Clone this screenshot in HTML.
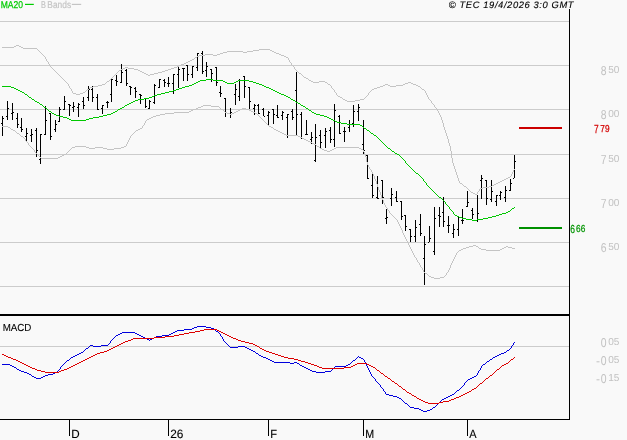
<!DOCTYPE html><html><head><meta charset="utf-8"><title>chart</title><style>html,body{margin:0;padding:0;background:#f9f9f9;}svg{display:block;will-change:transform;transform:translateZ(0)}text{font-family:"Liberation Sans",sans-serif;text-rendering:geometricPrecision}</style></head><body>
<svg width="627" height="440" viewBox="0 0 627 440">
<line x1="0" y1="21.5" x2="569" y2="21.5" stroke="#cccccc" stroke-width="1" shape-rendering="crispEdges"/>
<line x1="0" y1="65.5" x2="569" y2="65.5" stroke="#cccccc" stroke-width="1" shape-rendering="crispEdges"/>
<line x1="0" y1="109.5" x2="569" y2="109.5" stroke="#cccccc" stroke-width="1" shape-rendering="crispEdges"/>
<line x1="0" y1="154.5" x2="569" y2="154.5" stroke="#cccccc" stroke-width="1" shape-rendering="crispEdges"/>
<line x1="0" y1="198.5" x2="569" y2="198.5" stroke="#cccccc" stroke-width="1" shape-rendering="crispEdges"/>
<line x1="0" y1="242.5" x2="569" y2="242.5" stroke="#cccccc" stroke-width="1" shape-rendering="crispEdges"/>
<line x1="0" y1="286.5" x2="569" y2="286.5" stroke="#cccccc" stroke-width="1" shape-rendering="crispEdges"/>
<line x1="0" y1="346.5" x2="569" y2="346.5" stroke="#cccccc" stroke-width="1" shape-rendering="crispEdges"/>
<path d="M2.5 116V136M1 123.5h1M3 118.5h1M7.5 101V120M6 116.5h1M8 108.5h1M12.5 103V120M11 113.5h1M13 112.5h1M17.5 113V128M16 118.5h1M18 124.5h1M21.5 118V132M20 127.5h1M22 129.5h1M26.5 128V142M25 136.5h1M27 133.5h1M31.5 129V142M30 135.5h1M32 134.5h1M36.5 128V157M35 130.5h1M37 150.5h1M40.5 134V164M39 159.5h1M41 134.5h1M45.5 106V135M44 134.5h1M46 120.5h1M50.5 113V140M49 113.5h1M51 136.5h1M55.5 120V132M54 129.5h1M56 124.5h1M59.5 107V122M58 121.5h1M60 109.5h1M64.5 96V110M63 109.5h1M65 101.5h1M69.5 104V116M68 104.5h1M70 105.5h1M73.5 102V112M72 107.5h1M74 106.5h1M78.5 103V117M77 107.5h1M79 104.5h1M83.5 97V109M82 101.5h1M84 105.5h1M88.5 86V101M87 97.5h1M89 89.5h1M92.5 86V102M91 89.5h1M93 97.5h1M97.5 94V110M96 97.5h1M98 109.5h1M102.5 105V114M101 108.5h1M103 105.5h1M107.5 101V108M106 102.5h1M108 102.5h1M111.5 79V102M110 94.5h1M112 79.5h1M116.5 75V86M115 80.5h1M117 81.5h1M121.5 64V83M120 82.5h1M122 72.5h1M126.5 69V86M125 70.5h1M127 83.5h1M130.5 86V95M129 86.5h1M131 87.5h1M135.5 87V98M134 88.5h1M136 91.5h1M140.5 94V104M139 94.5h1M141 95.5h1M145.5 98V108M144 98.5h1M146 106.5h1M149.5 100V109M148 108.5h1M150 101.5h1M154.5 84V104M153 102.5h1M155 85.5h1M159.5 79V88M158 87.5h1M160 79.5h1M164.5 79V87M163 80.5h1M165 82.5h1M168.5 77V87M167 83.5h1M169 83.5h1M173.5 74V94M172 83.5h1M174 74.5h1M178.5 67V88M177 74.5h1M179 69.5h1M183.5 68V81M182 68.5h1M184 68.5h1M187.5 65V81M186 65.5h1M188 74.5h1M192.5 66V78M191 74.5h1M193 66.5h1M197.5 53V71M196 67.5h1M198 53.5h1M202.5 51V74M201 53.5h1M203 71.5h1M206.5 62V77M205 70.5h1M207 66.5h1M211.5 69V82M210 69.5h1M212 73.5h1M216.5 67V86M215 67.5h1M217 82.5h1M220.5 86V97M219 92.5h1M221 93.5h1M225.5 98V117M224 98.5h1M226 112.5h1M230.5 108V118M229 113.5h1M231 112.5h1M235.5 84V105M234 94.5h1M236 89.5h1M239.5 79V101M238 96.5h1M240 80.5h1M244.5 76V98M243 76.5h1M245 86.5h1M249.5 87V109M248 87.5h1M250 101.5h1M254.5 104V115M253 108.5h1M255 105.5h1M258.5 104V114M257 105.5h1M259 113.5h1M263.5 108V116M262 109.5h1M264 116.5h1M268.5 111V125M267 115.5h1M269 112.5h1M273.5 109V124M272 109.5h1M274 114.5h1M277.5 105V118M276 115.5h1M278 117.5h1M282.5 111V120M281 115.5h1M283 112.5h1M287.5 114V138M286 117.5h1M288 114.5h1M292.5 109V120M291 111.5h1M293 117.5h1M296.5 72V136M295 90.5h1M297 114.5h1M301.5 112V139M300 114.5h1M302 138.5h1M306.5 120V135M305 134.5h1M307 134.5h1M311.5 132V144M310 139.5h1M312 137.5h1M315.5 124V162M314 160.5h1M316 137.5h1M320.5 130V149M319 135.5h1M321 142.5h1M325.5 128V148M324 135.5h1M326 131.5h1M330.5 127V143M329 130.5h1M331 139.5h1M334.5 104V147M333 139.5h1M335 110.5h1M339.5 115V134M338 116.5h1M340 133.5h1M344.5 127V142M343 131.5h1M345 131.5h1M349.5 120V132M348 127.5h1M350 124.5h1M353.5 105V127M352 123.5h1M354 111.5h1M358.5 104V121M357 111.5h1M359 107.5h1M363.5 120V154M362 144.5h1M364 150.5h1M367.5 155V179M366 155.5h1M368 178.5h1M372.5 174V198M371 185.5h1M373 195.5h1M377.5 176V199M376 197.5h1M378 198.5h1M382.5 180V204M381 180.5h1M383 197.5h1M386.5 209V224M385 218.5h1M387 217.5h1M391.5 188V206M390 198.5h1M392 194.5h1M396.5 191V202M395 197.5h1M397 201.5h1M401.5 201V220M400 201.5h1M402 216.5h1M405.5 215V231M404 215.5h1M406 226.5h1M410.5 229V242M409 229.5h1M411 236.5h1M415.5 220V242M414 236.5h1M416 227.5h1M420.5 214V236M419 224.5h1M421 233.5h1M424.5 236V285M423 258.5h1M425 244.5h1M429.5 226V242M428 242.5h1M430 238.5h1M434.5 207V255M433 251.5h1M435 218.5h1M439.5 207V227M438 215.5h1M440 216.5h1M443.5 197V227M442 212.5h1M444 221.5h1M448.5 216V233M447 225.5h1M449 225.5h1M453.5 224V238M452 233.5h1M454 229.5h1M458.5 217V236M457 229.5h1M459 217.5h1M462.5 209V224M461 220.5h1M463 220.5h1M467.5 191V207M466 206.5h1M468 202.5h1M472.5 208V219M471 210.5h1M473 214.5h1M477.5 195V222M476 220.5h1M478 213.5h1M481.5 175V199M480 180.5h1M482 178.5h1M486.5 180V205M485 180.5h1M487 198.5h1M491.5 180V202M490 199.5h1M492 191.5h1M496.5 195V206M495 201.5h1M497 195.5h1M500.5 191V200M499 195.5h1M501 192.5h1M505.5 186V202M504 197.5h1M506 190.5h1M510.5 179V191M509 190.5h1M511 183.5h1M514.5 155V178M513 178.5h1M515 161.5h1" stroke="#000" stroke-width="1" fill="none" shape-rendering="crispEdges"/>
<path d="M199 55.5h6M213 55.5h4M281 55.5h3M492 185.5h2M93 86.5h5M380 86.5h3M390 86.5h6M418 86.5h2M347 101.5h8M184 63.5h2M102 84.5h3M328 84.5h2M385 84.5h3M403 84.5h2M413 84.5h3M188 61.5h2M253 50.5h6M270 50.5h2M197 56.5h2M284 56.5h2M498 182.5h2M144 73.5h2M154 73.5h4M299 73.5h2M313 82.5h6M325 82.5h2M408 82.5h3M220 53.5h3M276 53.5h3M23 48.5h14M205 54.5h8M217 54.5h3M279 54.5h2M195 57.5h2M286 57.5h2M306 78.5h2M107 81.5h2M311 81.5h2M319 81.5h6M76 94.5h4M475 194.5h2M98 85.5h4M383 85.5h2M388 85.5h2M396 85.5h7M416 85.5h2M259 49.5h11M340 97.5h2M125 67.5h3M174 67.5h3M121 69.5h2M134 69.5h4M168 69.5h3M83 92.5h2M146 74.5h2M150 74.5h4M227 51.5h16M247 51.5h6M272 51.5h2M2 47.5h12M21 47.5h2M90 87.5h3M377 87.5h3M494 184.5h2M186 62.5h2M179 65.5h2M123 68.5h2M128 68.5h6M171 68.5h3M508 177.5h2M140 71.5h2M162 71.5h3M405 83.5h3M411 83.5h2M309 80.5h2M374 88.5h3M343 99.5h2M360 99.5h4M345 100.5h2M355 100.5h5M190 60.5h2M142 72.5h2M158 72.5h4M502 180.5h2M87 89.5h2M372 89.5h2M422 89.5h2M464 186.5h2M489 186.5h3M73 93.5h3M80 93.5h3M177 66.5h2M506 178.5h2M483 187.5h6M16 45.5h3M223 52.5h4M243 52.5h4M274 52.5h2M148 75.5h2M14 46.5h2M19 46.5h2M192 59.5h2M181 64.5h3M119 70.5h2M138 70.5h2M165 70.5h3M460 183.5h2M496 183.5h2M471 192.5h2M480 188.5h3M473 193.5h2M500 181.5h2M504 179.5h2M304 77.5h2M338 96.5h2M53.5 69v1M513.5 170v2M438.5 111v2M72.5 91v2M450.5 146v5M454.5 166v3M331.5 86v2M294.5 67v2M39.5 51v1M364.5 98v1M48.5 62v2M85.5 91v1M68.5 84v2M289.5 60v2M510.5 176v1M442.5 120v3M512.5 172v2M64.5 80v1M44.5 56v1M59.5 75v1M337.5 95v1M427.5 95v2M46.5 59v2M60.5 76v1M40.5 52v1M511.5 174v2M49.5 64v2M112.5 77v1M424.5 90v1M113.5 76v1M432.5 103v1M449.5 143v3M455.5 169v3M451.5 151v7M368.5 93v2M370.5 91v1M110.5 79v1M425.5 91v2M111.5 78v1M371.5 90v1M292.5 65v1M479.5 189v2M302.5 75v1M440.5 115v2M443.5 123v4M366.5 96v1M66.5 82v1M367.5 95v1M369.5 92v1M458.5 178v3M330.5 85v1M477.5 192v2M478.5 191v1M433.5 104v1M441.5 117v3M288.5 58v2M62.5 78v1M42.5 54v1M71.5 89v2M456.5 172v3M365.5 97v1M453.5 163v3M43.5 55v1M58.5 74v1M86.5 90v1M434.5 105v2M38.5 50v1M428.5 97v2M303.5 76v1M446.5 133v3M448.5 139v4M342.5 98v1M335.5 92v1M439.5 113v2M444.5 127v3M469.5 190v1M47.5 61v1M63.5 79v1M426.5 93v2M89.5 88v1M452.5 158v5M290.5 62v1M65.5 81v1M459.5 181v2M336.5 93v2M45.5 57v2M457.5 175v3M41.5 53v1M431.5 101v2M466.5 187v1M301.5 74v1M69.5 86v2M118.5 71v1M447.5 136v3M105.5 83v1M327.5 83v1M291.5 63v2M308.5 79v1M467.5 188v1M445.5 130v3M435.5 107v1M109.5 80v1M437.5 109v2M67.5 83v1M295.5 69v1M70.5 88v1M334.5 90v2M468.5 189v1M333.5 89v1M420.5 87v1M429.5 99v1M51.5 67v1M470.5 191v1M421.5 88v1M430.5 100v1M298.5 72v1M52.5 68v1M293.5 66v1M117.5 72v1M332.5 88v1M116.5 73v1M436.5 108v1M114.5 75v1M115.5 74v1M54.5 70v1M296.5 70v1M55.5 71v1M50.5 66v1M462.5 184v1M297.5 71v1M194.5 58v1M463.5 185v1M106.5 82v1M56.5 72v1M61.5 77v1M514.5 169v1M57.5 73v1M37.5 49v1" fill="none" stroke="#c4c4c4" stroke-width="1" shape-rendering="crispEdges"/>
<path d="M89 148.5h6M103 148.5h4M114 148.5h7M320 148.5h2M334 148.5h2M359 148.5h2M466 247.5h3M504 247.5h2M508 247.5h4M459 250.5h2M486 250.5h14M140 128.5h2M469 246.5h4M476 246.5h2M506 246.5h2M429 276.5h2M193 109.5h3M221 109.5h2M240 109.5h2M246 109.5h3M62 155.5h2M431 277.5h3M440 277.5h4M160 114.5h5M230 114.5h2M306 140.5h2M72 147.5h3M86 147.5h3M95 147.5h8M121 147.5h3M336 147.5h23M327 151.5h3M174 112.5h15M225 112.5h2M234 112.5h2M253 112.5h2M156 115.5h4M17 133.5h2M282 133.5h2M153 116.5h3M191 110.5h2M238 110.5h2M249 110.5h2M463 248.5h3M479 248.5h2M502 248.5h2M512 248.5h3M58 157.5h2M284 134.5h2M75 146.5h11M124 146.5h2M317 146.5h2M461 249.5h2M481 249.5h5M500 249.5h2M13 130.5h2M136 130.5h2M276 130.5h2M41 158.5h17M107 149.5h7M322 149.5h2M332 149.5h2M361 149.5h2M434 278.5h6M165 113.5h9M227 113.5h3M232 113.5h2M255 113.5h2M308 141.5h2M324 150.5h3M330 150.5h2M196 108.5h2M242 108.5h4M201 106.5h2M211 106.5h8M286 135.5h12M314 144.5h2M2 126.5h6M269 126.5h2M425 273.5h2M310 142.5h2M189 111.5h2M236 111.5h2M251 111.5h2M203 105.5h8M151 117.5h2M21 136.5h2M298 136.5h2M473 245.5h3M302 138.5h2M11 129.5h2M138 129.5h2M274 129.5h2M312 143.5h2M304 139.5h2M147 119.5h2M278 131.5h2M8 127.5h2M271 127.5h2M280 132.5h2M149 118.5h2M198 107.5h3M60 156.5h2M300 137.5h2M64 154.5h2M142.5 126v2M35.5 152v1M144.5 123v2M369.5 167v2M381.5 195v3M376.5 181v3M378.5 187v3M398.5 222v2M455.5 255v2M405.5 237v2M419.5 263v2M380.5 192v3M127.5 142v2M364.5 152v2M428.5 275v1M36.5 153v1M370.5 169v1M382.5 198v2M30.5 146v1M260.5 117v1M454.5 257v2M448.5 270v2M446.5 273v2M412.5 251v2M367.5 162v3M135.5 131v1M261.5 118v1M444.5 276v1M368.5 165v2M374.5 176v3M257.5 114v1M371.5 170v2M37.5 154v1M129.5 138v2M366.5 157v5M451.5 263v2M385.5 205v2M24.5 138v1M66.5 153v1M375.5 179v2M420.5 265v2M409.5 245v2M387.5 208v2M423.5 270v2M128.5 140v2M390.5 213v1M262.5 119v1M452.5 261v2M39.5 156v1M413.5 253v2M34.5 150v2M28.5 143v2M416.5 258v2M258.5 115v1M268.5 125v1M383.5 200v3M391.5 214v1M403.5 233v2M418.5 262v1M400.5 226v2M25.5 139v2M421.5 267v1M264.5 121v1M259.5 116v1M219.5 107v1M397.5 220v2M410.5 247v2M450.5 265v3M373.5 174v2M40.5 157v1M19.5 134v1M145.5 121v2M414.5 255v2M456.5 253v2M146.5 120v1M126.5 144v2M411.5 249v2M404.5 235v2M379.5 190v2M265.5 122v1M408.5 243v2M365.5 154v3M220.5 108v1M31.5 147v1M394.5 217v1M67.5 152v1M266.5 123v1M389.5 211v2M15.5 131v1M32.5 148v1M447.5 272v1M316.5 145v1M26.5 141v1M449.5 268v2M399.5 224v2M453.5 259v2M273.5 128v1M363.5 150v2M402.5 230v3M134.5 132v1M38.5 155v1M377.5 184v3M406.5 239v2M395.5 218v1M130.5 136v2M132.5 134v1M267.5 124v1M424.5 272v1M33.5 149v1M263.5 120v1M396.5 219v1M29.5 145v1M417.5 260v2M372.5 172v2M392.5 215v1M422.5 268v2M458.5 251v1M20.5 135v1M384.5 203v2M457.5 252v1M393.5 216v1M401.5 228v2M407.5 241v2M478.5 247v1M319.5 147v1M388.5 210v1M143.5 125v1M133.5 133v1M27.5 142v1M415.5 257v1M131.5 135v1M71.5 148v1M69.5 150v1M10.5 128v1M70.5 149v1M16.5 132v1M223.5 110v1M68.5 151v1M445.5 275v1M23.5 137v1M386.5 207v1M224.5 111v1M427.5 274v1" fill="none" stroke="#c4c4c4" stroke-width="1" shape-rendering="crispEdges"/>
<path d="M161 93.5h4M279 93.5h2M194 83.5h2M227 83.5h7M256 83.5h3M371 133.5h2M472 220.5h5M63 117.5h4M93 117.5h6M327 117.5h2M200 80.5h6M213 80.5h10M238 80.5h11M506 212.5h2M125 105.5h2M301 105.5h2M364 128.5h2M206 79.5h7M198 81.5h2M223 81.5h2M236 81.5h2M249 81.5h4M512 208.5h2M196 82.5h2M225 82.5h2M234 82.5h2M253 82.5h3M35 101.5h2M133 101.5h2M71 120.5h15M333 120.5h2M18 90.5h2M173 90.5h3M273 90.5h2M457 216.5h2M492 216.5h4M341 123.5h6M129 103.5h2M298 103.5h2M14 88.5h2M179 88.5h3M269 88.5h2M56 115.5h3M103 115.5h4M320 115.5h4M347 124.5h13M11 87.5h3M182 87.5h3M266 87.5h3M37 102.5h2M131 102.5h2M296 102.5h2M192 84.5h2M259 84.5h3M29 97.5h2M149 97.5h3M288 97.5h2M2 86.5h9M185 86.5h4M264 86.5h2M67 118.5h2M89 118.5h4M329 118.5h2M144 98.5h5M25 94.5h2M157 94.5h4M281 94.5h3M367 130.5h2M455 215.5h2M496 215.5h3M459 217.5h3M488 217.5h4M154 95.5h3M284 95.5h2M360 125.5h2M49 111.5h2M115 111.5h2M152 96.5h2M286 96.5h2M22 92.5h2M165 92.5h4M277 92.5h2M59 116.5h4M99 116.5h4M324 116.5h3M189 85.5h3M262 85.5h2M52 113.5h2M111 113.5h2M314 113.5h2M135 100.5h3M293 100.5h2M32 99.5h2M138 99.5h6M291 99.5h2M502 213.5h4M309 110.5h2M462 218.5h4M483 218.5h5M20 91.5h2M169 91.5h4M275 91.5h2M120 108.5h2M306 108.5h2M374 135.5h2M16 89.5h2M176 89.5h3M271 89.5h2M44 107.5h2M122 107.5h2M466 219.5h6M477 219.5h6M54 114.5h2M107 114.5h4M316 114.5h4M69 119.5h2M86 119.5h3M331 119.5h2M508 211.5h2M303 106.5h2M335 121.5h2M337 122.5h4M40 104.5h2M127 104.5h2M395 153.5h2M118 109.5h2M392 151.5h2M499 214.5h3M388 148.5h2M113 112.5h2M312 112.5h2M416 173.5h2M439 197.5h2M397 154.5h2M444.5 201v1M401.5 157v1M432.5 190v1M369.5 131v1M452.5 211v1M42.5 105v1M413.5 170v1M433.5 191v1M117.5 110v1M429.5 187v1M423.5 179v2M449.5 207v2M124.5 106v1M414.5 171v1M390.5 149v1M424.5 181v1M450.5 209v1M391.5 150v1M362.5 126v1M405.5 161v2M436.5 194v1M308.5 109v1M39.5 103v1M363.5 127v1M437.5 195v1M510.5 210v1M426.5 183v2M27.5 95v1M370.5 132v1M381.5 141v1M453.5 212v2M514.5 207v1M377.5 137v1M438.5 196v1M448.5 206v1M28.5 96v1M47.5 109v1M434.5 192v1M48.5 110v1M378.5 138v1M383.5 143v1M425.5 182v1M379.5 139v1M451.5 210v1M419.5 175v1M445.5 202v2M407.5 164v1M420.5 176v1M446.5 204v1M385.5 145v1M300.5 104v1M46.5 108v1M376.5 136v1M386.5 146v1M421.5 177v1M447.5 205v1M34.5 100v1M382.5 142v1M410.5 167v1M295.5 101v1M406.5 163v1M418.5 174v1M290.5 98v1M394.5 152v1M427.5 185v1M311.5 111v1M511.5 209v1M366.5 129v1M384.5 144v1M412.5 169v1M305.5 107v1M380.5 140v1M373.5 134v1M408.5 165v1M402.5 158v1M428.5 186v1M24.5 93v1M454.5 214v1M43.5 106v1M441.5 198v1M403.5 159v1M31.5 98v1M399.5 155v1M409.5 166v1M51.5 112v1M387.5 147v1M422.5 178v1M415.5 172v1M442.5 199v1M404.5 160v1M435.5 193v1M430.5 188v1M411.5 168v1M400.5 156v1M431.5 189v1M443.5 200v1" fill="none" stroke="#00c800" stroke-width="1" shape-rendering="crispEdges"/>
<line x1="519" y1="128" x2="562" y2="128" stroke="#cc0000" stroke-width="2" shape-rendering="crispEdges"/>
<line x1="519" y1="228" x2="562" y2="228" stroke="#009000" stroke-width="2" shape-rendering="crispEdges"/>
<path d="M36 378.5h5M470 378.5h2M2 364.5h8M348 364.5h2M483 364.5h2M192 328.5h2M211 328.5h3M230 347.5h8M245 347.5h2M73 356.5h2M261 356.5h2M495 356.5h2M274 362.5h16M294 362.5h3M118 334.5h2M137 334.5h2M169 334.5h2M141 336.5h2M156 336.5h6M266 358.5h2M361 358.5h2M122 332.5h13M173 332.5h2M24 372.5h3M55 372.5h2M316 372.5h9M386 394.5h3M452 394.5h2M272 361.5h2M487 361.5h2M143 337.5h2M154 337.5h2M17 369.5h2M308 369.5h2M10 365.5h2M300 365.5h2M346 365.5h2M90 345.5h3M101 345.5h7M29 374.5h2M48 374.5h5M197 326.5h9M81 352.5h2M504 352.5h2M67 360.5h2M270 360.5h2M353 360.5h2M249 349.5h2M93 346.5h8M238 346.5h7M34 377.5h2M41 377.5h2M472 377.5h2M253 351.5h2M290 363.5h4M297 363.5h2M86 348.5h2M247 348.5h2M184 329.5h8M251 350.5h2M507 350.5h2M21 371.5h3M312 371.5h4M325 371.5h6M393 396.5h4M448 396.5h2M45 375.5h3M12 366.5h2M302 366.5h2M335 366.5h11M147 339.5h2M150 339.5h2M421 410.5h2M427 410.5h3M77 354.5h2M499 354.5h2M268 359.5h2M490 359.5h2M410 407.5h4M433 407.5h2M405 403.5h2M19 370.5h2M310 370.5h2M177 330.5h7M79 353.5h2M256 353.5h2M501 353.5h3M389 395.5h4M450 395.5h2M32 376.5h2M43 376.5h2M474 376.5h2M116 335.5h2M139 335.5h2M162 335.5h7M423 411.5h4M399 398.5h2M444 398.5h2M71 357.5h2M263 357.5h3M359 357.5h2M493 357.5h2M414 408.5h5M75 355.5h2M259 355.5h2M497 355.5h2M175 331.5h2M216 331.5h2M419 409.5h2M430 409.5h2M145 338.5h2M152 338.5h2M194 327.5h3M206 327.5h5M306 368.5h2M14 367.5h2M304 367.5h2M468 379.5h2M27 373.5h2M53 373.5h2M457 390.5h2M120 333.5h2M135 333.5h2M171 333.5h2M397 397.5h2M446 397.5h2M442 399.5h2M364.5 360v2M482.5 365v1M220.5 334v2M385.5 392v2M512.5 345v1M366.5 364v2M377.5 382v1M403.5 401v1M481.5 366v2M221.5 336v1M486.5 362v1M224.5 341v1M383.5 389v2M114.5 337v1M115.5 336v1M369.5 370v2M378.5 383v1M404.5 402v1M110.5 341v2M380.5 385v2M255.5 352v1M477.5 373v2M85.5 349v1M60.5 367v2M367.5 366v2M506.5 351v1M401.5 399v1M375.5 379v2M218.5 332v1M227.5 344v1M368.5 368v2M223.5 339v2M376.5 381v1M464.5 383v2M514.5 342v1M365.5 362v2M456.5 391v1M229.5 346v1M513.5 343v2M440.5 401v1M461.5 387v1M225.5 342v1M352.5 361v1M65.5 362v1M485.5 363v1M66.5 361v1M299.5 364v1M373.5 377v1M149.5 340v1M64.5 363v1M69.5 359v1M370.5 372v2M70.5 358v1M113.5 338v1M379.5 384v1M479.5 370v1M480.5 368v2M511.5 346v2M109.5 343v1M111.5 340v1M374.5 378v1M63.5 364v1M89.5 346v1M478.5 371v2M467.5 380v1M219.5 333v1M108.5 344v1M228.5 345v1M59.5 369v1M61.5 366v1M222.5 337v2M463.5 385v1M465.5 382v1M466.5 381v1M57.5 371v1M441.5 400v1M462.5 386v1M371.5 374v2M407.5 404v1M258.5 354v1M372.5 376v1M489.5 360v1M214.5 329v1M357.5 357v1M455.5 392v1M432.5 408v1M226.5 343v1M31.5 375v1M454.5 393v1M381.5 387v1M459.5 389v1M112.5 339v1M334.5 367v1M84.5 350v1M332.5 369v1M492.5 358v1M215.5 330v1M16.5 368v1M333.5 368v1M409.5 406v1M62.5 365v1M510.5 348v1M435.5 406v1M83.5 351v1M88.5 347v1M331.5 370v1M58.5 370v1M509.5 349v1M363.5 359v1M384.5 391v1M358.5 356v1M439.5 402v1M356.5 358v1M476.5 375v1M460.5 388v1M408.5 405v1M351.5 362v1M437.5 404v1M438.5 403v1M350.5 363v1M355.5 359v1M436.5 405v1M382.5 388v1M402.5 400v1" fill="none" stroke="#0000dd" stroke-width="1" shape-rendering="crispEdges"/>
<path d="M189 332.5h6M221 332.5h2M18 361.5h2M81 361.5h2M301 361.5h4M425 402.5h3M439 402.5h4M133 338.5h21M233 338.5h3M184 333.5h5M223 333.5h2M13 359.5h3M85 359.5h2M294 359.5h4M511 359.5h2M204 329.5h13M111 348.5h2M260 348.5h2M28 366.5h2M71 366.5h2M317 366.5h2M351 366.5h2M371 366.5h2M154 337.5h11M231 337.5h2M200 330.5h4M217 330.5h2M125 341.5h3M241 341.5h4M20 362.5h2M79 362.5h2M305 362.5h3M22 363.5h2M77 363.5h2M308 363.5h3M357 363.5h10M506 363.5h2M388 378.5h2M486 378.5h2M195 331.5h5M219 331.5h2M32 368.5h3M67 368.5h2M322 368.5h22M423 401.5h2M443 401.5h6M8 357.5h3M89 357.5h2M284 357.5h4M474 388.5h2M45 372.5h14M428 403.5h11M100 352.5h4M269 352.5h3M131 339.5h2M236 339.5h2M11 358.5h2M87 358.5h2M288 358.5h6M179 334.5h5M225 334.5h2M403 389.5h2M472 389.5h2M407 392.5h2M467 392.5h2M490 375.5h2M128 340.5h3M238 340.5h3M30 367.5h2M69 367.5h2M319 367.5h3M344 367.5h7M373 367.5h2M107 350.5h2M264 350.5h2M24 364.5h2M75 364.5h2M311 364.5h3M355 364.5h2M367 364.5h2M504 364.5h2M26 365.5h2M73 365.5h2M314 365.5h3M353 365.5h2M369 365.5h2M502 365.5h2M121 343.5h2M249 343.5h4M117 345.5h2M255 345.5h2M2 354.5h2M95 354.5h2M275 354.5h3M35 369.5h2M64 369.5h3M497 369.5h2M417 398.5h2M454 398.5h2M463 394.5h2M109 349.5h2M262 349.5h2M414 396.5h2M459 396.5h2M395 383.5h2M480 383.5h2M4 355.5h2M93 355.5h2M278 355.5h3M37 370.5h4M61 370.5h3M377 370.5h2M104 351.5h3M266 351.5h3M6 356.5h2M91 356.5h2M281 356.5h3M16 360.5h2M83 360.5h2M298 360.5h3M113 347.5h2M421 400.5h2M449 400.5h2M97 353.5h3M272 353.5h3M123 342.5h2M245 342.5h4M174 335.5h5M227 335.5h2M456 397.5h3M165 336.5h9M229 336.5h2M41 371.5h4M59 371.5h2M412 395.5h2M461 395.5h2M469 391.5h2M419 399.5h2M451 399.5h3M115 346.5h2M257 346.5h2M119 344.5h2M253 344.5h2M392 381.5h2M385 376.5h2M381 373.5h2M399 386.5h2M409 393.5h2M465 393.5h2M510.5 360v1M376.5 369v1M496.5 370v1M501.5 366v1M380.5 372v1M508.5 362v1M383.5 374v1M479.5 384v1M509.5 361v1M495.5 371v1M500.5 367v1M387.5 377v1M514.5 357v1M484.5 380v1M485.5 379v1M489.5 376v1M494.5 372v1M384.5 375v1M259.5 347v1M478.5 385v1M477.5 386v1M513.5 358v1M390.5 379v1M394.5 382v1M499.5 368v1M482.5 382v1M483.5 381v1M488.5 377v1M391.5 380v1M493.5 373v1M397.5 384v1M416.5 397v1M398.5 385v1M405.5 390v1M476.5 387v1M375.5 368v1M492.5 374v1M401.5 387v1M411.5 394v1M402.5 388v1M379.5 371v1M471.5 390v1M406.5 391v1" fill="none" stroke="#dd0000" stroke-width="1" shape-rendering="crispEdges"/>
<line x1="0" y1="315" x2="570" y2="315" stroke="#000" stroke-width="2" shape-rendering="crispEdges"/>
<line x1="0" y1="419.5" x2="570" y2="419.5" stroke="#000" stroke-width="1" shape-rendering="crispEdges"/>
<line x1="569.5" y1="9" x2="569.5" y2="420" stroke="#000" stroke-width="1" shape-rendering="crispEdges"/>
<line x1="69.5" y1="419" x2="69.5" y2="436" stroke="#000" stroke-width="1" shape-rendering="crispEdges"/>
<text x="71.2" y="437.8" font-size="12" fill="#000" stroke="#000" stroke-width="0.12" textLength="8.4" lengthAdjust="spacingAndGlyphs">D</text>
<line x1="168.5" y1="419" x2="168.5" y2="436" stroke="#000" stroke-width="1" shape-rendering="crispEdges"/>
<text x="170.2" y="437.8" font-size="12" fill="#000" stroke="#000" stroke-width="0.12" textLength="13.2" lengthAdjust="spacingAndGlyphs">26</text>
<line x1="268.5" y1="419" x2="268.5" y2="436" stroke="#000" stroke-width="1" shape-rendering="crispEdges"/>
<text x="270.2" y="437.8" font-size="12" fill="#000" stroke="#000" stroke-width="0.12" textLength="6.8" lengthAdjust="spacingAndGlyphs">F</text>
<line x1="363.5" y1="419" x2="363.5" y2="436" stroke="#000" stroke-width="1" shape-rendering="crispEdges"/>
<text x="365.2" y="437.8" font-size="12" fill="#000" stroke="#000" stroke-width="0.12" textLength="8.9" lengthAdjust="spacingAndGlyphs">M</text>
<line x1="467.5" y1="419" x2="467.5" y2="436" stroke="#000" stroke-width="1" shape-rendering="crispEdges"/>
<text x="469.2" y="437.8" font-size="12" fill="#000" stroke="#000" stroke-width="0.12" textLength="7.3" lengthAdjust="spacingAndGlyphs">A</text>
<text x="600.7" y="75" font-size="12.9" fill="#c2c2c2" textLength="5.8" lengthAdjust="spacingAndGlyphs">8</text>
<text x="608.2" y="73" font-size="10.1" fill="#c2c2c2" textLength="11.2" lengthAdjust="spacingAndGlyphs">50</text>
<text x="600.7" y="119" font-size="12.9" fill="#c2c2c2" textLength="5.8" lengthAdjust="spacingAndGlyphs">8</text>
<text x="608.2" y="117" font-size="10.1" fill="#c2c2c2" textLength="11.2" lengthAdjust="spacingAndGlyphs">00</text>
<text x="600.7" y="164" font-size="12.9" fill="#c2c2c2" textLength="5.8" lengthAdjust="spacingAndGlyphs">7</text>
<text x="608.2" y="162" font-size="10.1" fill="#c2c2c2" textLength="11.2" lengthAdjust="spacingAndGlyphs">50</text>
<text x="600.7" y="208" font-size="12.9" fill="#c2c2c2" textLength="5.8" lengthAdjust="spacingAndGlyphs">7</text>
<text x="608.2" y="206" font-size="10.1" fill="#c2c2c2" textLength="11.2" lengthAdjust="spacingAndGlyphs">00</text>
<text x="600.7" y="252" font-size="12.9" fill="#c2c2c2" textLength="5.8" lengthAdjust="spacingAndGlyphs">6</text>
<text x="608.2" y="250" font-size="10.1" fill="#c2c2c2" textLength="11.2" lengthAdjust="spacingAndGlyphs">50</text>
<text x="600.7" y="347" font-size="12.9" fill="#c2c2c2" textLength="5.8" lengthAdjust="spacingAndGlyphs">0</text>
<text x="608.2" y="345" font-size="10.1" fill="#c2c2c2" textLength="11.2" lengthAdjust="spacingAndGlyphs">05</text>
<text x="596" y="365.2" font-size="12" fill="#c2c2c2">-</text>
<text x="600.7" y="365" font-size="12.9" fill="#c2c2c2" textLength="5.8" lengthAdjust="spacingAndGlyphs">0</text>
<text x="608.2" y="363" font-size="10.1" fill="#c2c2c2" textLength="11.2" lengthAdjust="spacingAndGlyphs">05</text>
<text x="596" y="383.2" font-size="12" fill="#c2c2c2">-</text>
<text x="600.7" y="383" font-size="12.9" fill="#c2c2c2" textLength="5.8" lengthAdjust="spacingAndGlyphs">0</text>
<text x="608.2" y="381" font-size="10.1" fill="#c2c2c2" textLength="11.2" lengthAdjust="spacingAndGlyphs">15</text>
<text x="594.0" y="133" font-size="11.7" fill="#d40000" stroke="#d40000" stroke-width="0.25" textLength="4.7" lengthAdjust="spacingAndGlyphs">7</text>
<text x="600.3" y="132" font-size="10.1" fill="#d40000" stroke="#d40000" stroke-width="0.25" textLength="9.2" lengthAdjust="spacingAndGlyphs">79</text>
<text x="570.2" y="233" font-size="11.7" fill="#009400" stroke="#009400" stroke-width="0.25" textLength="4.7" lengthAdjust="spacingAndGlyphs">6</text>
<text x="576.1" y="232" font-size="10.1" fill="#009400" stroke="#009400" stroke-width="0.25" textLength="9.2" lengthAdjust="spacingAndGlyphs">66</text>
<text x="0.7" y="7.9" font-size="9.9" fill="#00cc00" stroke="#00cc00" stroke-width="0.25" textLength="22.3" lengthAdjust="spacingAndGlyphs">MA20</text>
<line x1="25" y1="4.4" x2="33.8" y2="4.4" stroke="#00cc00" stroke-width="1.2"/>
<text x="40.9" y="7.9" font-size="9.9" fill="#c4c4c4" stroke="#c4c4c4" stroke-width="0.2" textLength="4.9" lengthAdjust="spacingAndGlyphs">B</text>
<text x="47.3" y="7.9" font-size="9.9" fill="#c4c4c4" stroke="#c4c4c4" stroke-width="0.2" textLength="23.8" lengthAdjust="spacingAndGlyphs">Bands</text>
<line x1="71.8" y1="4.4" x2="81.2" y2="4.4" stroke="#c4c4c4" stroke-width="1.2"/>
<text x="2.7" y="330.9" font-size="10.2" fill="#000" stroke="#000" stroke-width="0.08" textLength="28.7" lengthAdjust="spacingAndGlyphs">MACD</text>
<text x="448.8" y="7.9" font-size="9.4" font-style="italic" fill="#000" stroke="#000" stroke-width="0.12" textLength="124.8" lengthAdjust="spacing">© TEC 19/4/2026 3:0 GMT</text>
</svg></body></html>
